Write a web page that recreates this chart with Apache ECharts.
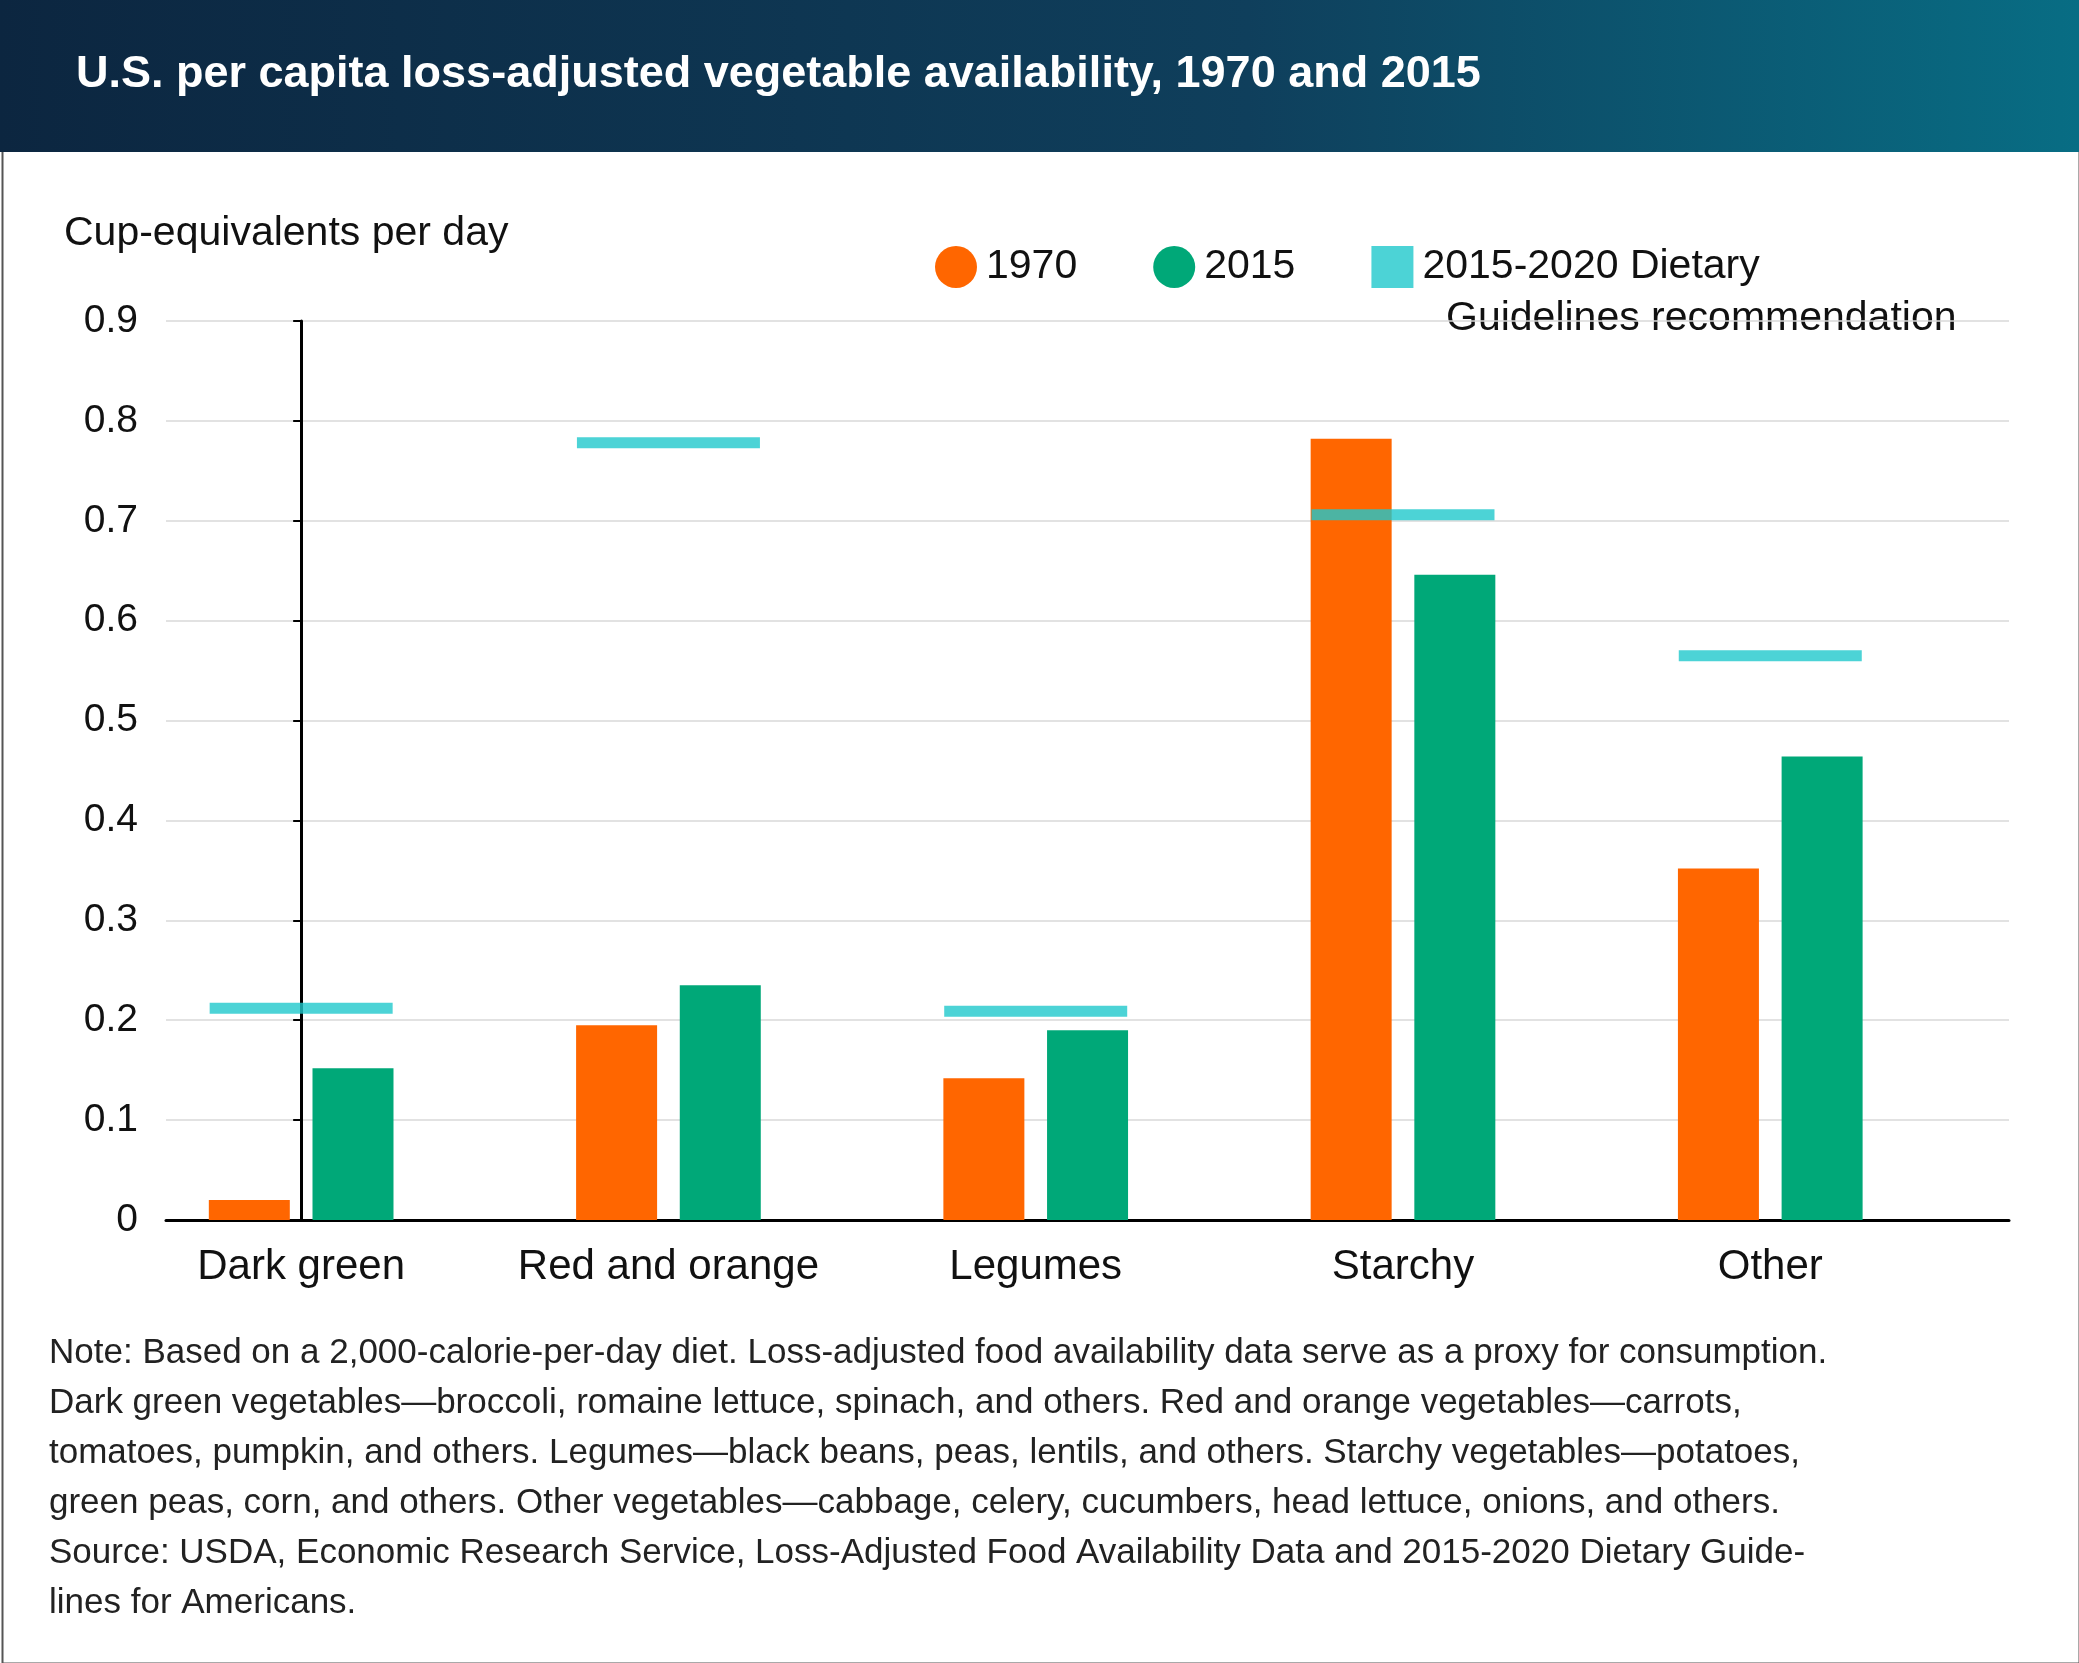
<!DOCTYPE html>
<html style="height: 100%">
<head>
    <meta charset="utf-8">
</head>
<body style="height: 100%; margin: 0">
    <div id="container" style="width: 2079px; height: 1663px;"></div>
    <script type="text/javascript" src="https://cdn.jsdelivr.net/npm/echarts@6/dist/echarts.min.js"></script>
    <script type="text/javascript">
        var categories = ['Dark green', 'Red and orange', 'Legumes', 'Starchy', 'Other'];
        var values1970 = [0.02, 0.195, 0.142, 0.782, 0.352];
        var values2015 = [0.152, 0.235, 0.19, 0.646, 0.464];
        var recommended = [0.212, 0.778, 0.209, 0.706, 0.565];
        var yTicks = [0, 0.1, 0.2, 0.3, 0.4, 0.5, 0.6, 0.7, 0.8, 0.9];

        var font = '"Liberation Sans", Arial, sans-serif';
        var noteLines = [
            'Note: Based on a 2,000-calorie-per-day diet. Loss-adjusted food availability data serve as a proxy for consumption.',
            'Dark green vegetables\u2014broccoli, romaine lettuce, spinach, and others. Red and orange vegetables\u2014carrots,',
            'tomatoes, pumpkin, and others. Legumes\u2014black beans, peas, lentils, and others. Starchy vegetables\u2014potatoes,',
            'green peas, corn, and others. Other vegetables\u2014cabbage, celery, cucumbers, head lettuce, onions, and others.',
            'Source: USDA, Economic Research Service, Loss-Adjusted Food Availability Data and 2015-2020 Dietary Guide-',
            'lines for Americans.'
        ];

        function pairs(arr) {
            return arr.map(function (v, i) { return [i, v]; });
        }

        var myChart = echarts.init(document.getElementById('container'));
        var option = {
            backgroundColor: '#ffffff',
            textStyle: { fontFamily: font },
            animation: false,
            graphic: [
                {
                    type: 'rect', left: 0, top: 0, z: -1,
                    shape: { width: 2079, height: 152 },
                    style: {
                        fill: new echarts.graphic.LinearGradient(0, 0, 1, 0, [
                            { offset: 0, color: '#0c2640' },
                            { offset: 0.6, color: '#0f3f5c' },
                            { offset: 1, color: '#086d84' }
                        ])
                    }
                },
                {
                    type: 'rect', left: 0, top: 0, z: -2,
                    shape: { width: 2077, height: 1661 },
                    style: { fill: 'none', stroke: '#555', lineWidth: 2 }
                },
                {
                    type: 'text', left: 76, top: 52,
                    style: { text: 'U.S. per capita loss-adjusted vegetable availability, 1970 and 2015', fill: '#fff', font: 'bold 45px ' + font }
                },
                {
                    type: 'text', left: 64, top: 213,
                    style: { text: 'Cup-equivalents per day', fill: '#111', font: '41px ' + font }
                },
                {
                    type: 'text', left: 1446, top: 298,
                    style: { text: 'Guidelines recommendation', fill: '#111', font: '41px ' + font }
                },
                {
                    type: 'text', left: 49, top: 1328,
                    style: { text: noteLines.join('\n'), fill: '#222', font: '35px ' + font, lineHeight: 50 }
                }
            ],
            legend: {
                left: 930, top: 241,
                itemGap: 76, itemWidth: 42, itemHeight: 42,
                textStyle: { fontSize: 41, color: '#111', fontFamily: font, padding: [0, 0, 0, 4] },
                data: [
                    { name: '1970', icon: 'circle' },
                    { name: '2015', icon: 'circle' },
                    { name: '2015-2020 Dietary', icon: 'rect', itemStyle: { color: '#1fc8cc' } }
                ]
            },
            grid: { left: 166, right: 70, top: 321, bottom: 443 },
            xAxis: {
                type: 'value', min: -0.368, max: 4.65,
                splitLine: { show: false },
                axisLine: { show: true, onZero: false, lineStyle: { color: '#000', width: 3 } },
                axisTick: { show: false },
                axisLabel: {
                    customValues: [0, 1, 2, 3, 4],
                    formatter: function (v) { return categories[Math.round(v)]; },
                    fontSize: 42, color: '#111', margin: 26
                }
            },
            yAxis: {
                type: 'value', min: 0, max: 0.9, interval: 0.1,
                axisLine: { show: true, lineStyle: { color: '#000', width: 3 } },
                axisTick: { show: true, length: 8, lineStyle: { color: '#000', width: 2 } },
                splitLine: { lineStyle: { color: '#d9d9d9', width: 1.5 } },
                axisLabel: {
                    fontSize: 39, color: '#111', margin: 28,
                    formatter: function (v) {
                        var i = yTicks.findIndex(function (t) { return Math.abs(t - v) < 1e-6; });
                        return i < 0 ? '' : (i === 0 ? '0' : String(yTicks[i]));
                    }
                }
            },
            series: [
                {
                    name: '1970', type: 'bar', data: pairs(values1970),
                    barWidth: 81, barGap: '28%', itemStyle: { color: '#ff6600' }
                },
                {
                    name: '2015', type: 'bar', data: pairs(values2015),
                    barWidth: 81, itemStyle: { color: '#00a878' }
                },
                {
                    name: '2015-2020 Dietary', type: 'scatter', data: pairs(recommended),
                    symbol: 'rect', symbolSize: [183, 11], z: 5,
                    itemStyle: { color: '#1fc8cc' }
                }
            ]
        };
        myChart.setOption(option, true);
    </script>
</body>
</html>
